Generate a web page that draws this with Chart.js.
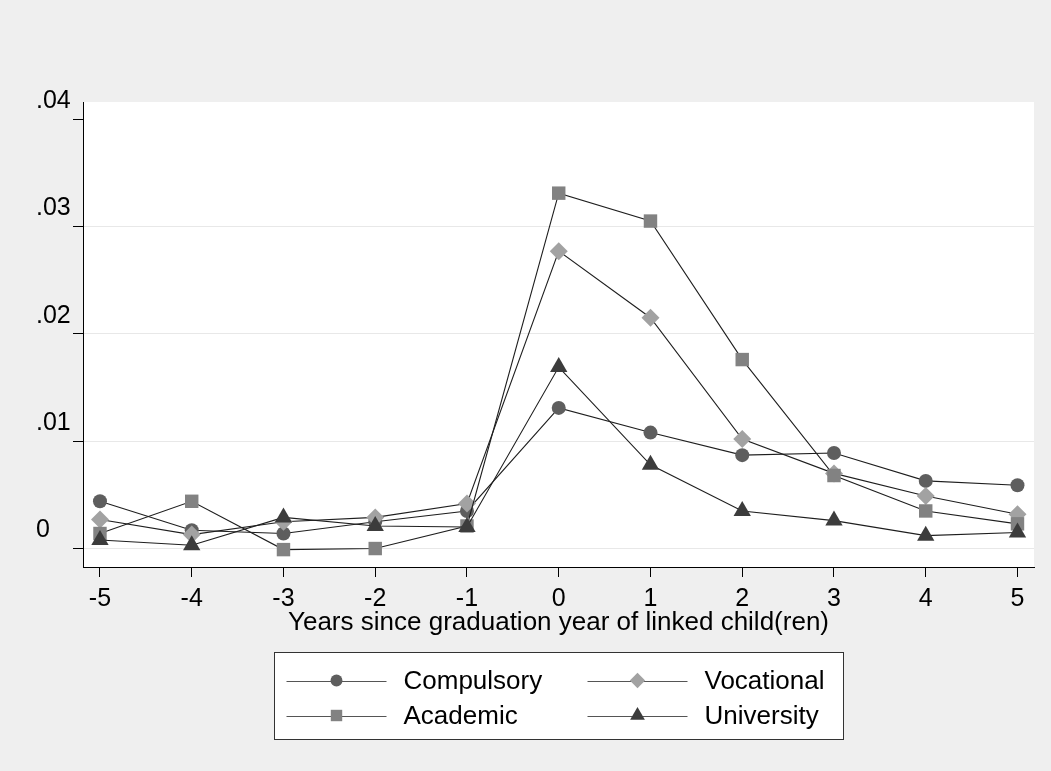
<!DOCTYPE html>
<html>
<head>
<meta charset="utf-8">
<script src="https://cdn.jsdelivr.net/npm/chart.js@4/dist/chart.umd.min.js"></script>
<style>
  html, body { margin: 0; padding: 0; background: #efefef; }
  canvas { display: block; }
</style>
</head>
<body>
<canvas id="grafica" width="1051" height="771"></canvas>
<script>
// Datos
const years = [-5, -4, -3, -2, -1, 0, 1, 2, 3, 4, 5];
const compulsory = [0.0044, 0.0017, 0.0014, 0.0025, 0.0035, 0.0131, 0.0108, 0.0087, 0.0089, 0.0063, 0.0059];
const vocational = [0.0027, 0.0013, 0.0025, 0.0029, 0.0042, 0.0277, 0.0215, 0.0102, 0.0070, 0.0049, 0.0032];
const academic   = [0.0014, 0.0044, -0.0001, 0.0000, 0.0021, 0.0331, 0.0305, 0.0176, 0.0068, 0.0035, 0.0023];
const university = [0.0008, 0.0003, 0.0029, 0.0021, 0.0020, 0.0169, 0.0078, 0.0035, 0.0026, 0.0012, 0.0015];
const yTicks = [0, 0.01, 0.02, 0.03, 0.04];
const xTitle = "Years since graduation year of linked child(ren)";

const FONT = "'Liberation Sans', Arial, Helvetica, sans-serif";

function serie(label, values, style, radius, color, order) {
    return {
        label: label,
        data: years.map((x, i) => ({ x: x, y: values[i] })),
        borderColor: '#1e1e1e',
        borderWidth: 1.1,
        pointStyle: style,
        pointRadius: radius,
        pointBackgroundColor: color,
        pointBorderWidth: 0,
        tension: 0,
        order: order
    };
}

const datasets = [
    serie('Compulsory', compulsory, 'circle', 7, '#5e5e5e', 3),
    serie('Vocational', vocational, 'rectRot', 9, '#a2a2a2', 2),
    serie('Academic', academic, 'rect', 9.5, '#828282', 1),
    serie('University', university, 'triangle', 10, '#3c3c3c', 0)
];

// marcador simple para la leyenda
function marcador(ctx, style, r, x, y, color) {
    ctx.save();
    ctx.fillStyle = color;
    ctx.beginPath();
    if (style === 'circle') {
        ctx.arc(x, y, r, 0, Math.PI * 2);
    } else if (style === 'rect') {
        const s = r * Math.SQRT1_2;
        ctx.rect(x - s, y - s, 2 * s, 2 * s);
    } else if (style === 'rectRot') {
        ctx.moveTo(x - r, y); ctx.lineTo(x, y - r); ctx.lineTo(x + r, y); ctx.lineTo(x, y + r);
        ctx.closePath();
    } else {
        ctx.moveTo(x, y - r);
        ctx.lineTo(x + r * Math.sin(Math.PI * 2 / 3), y - r * Math.cos(Math.PI * 2 / 3));
        ctx.lineTo(x - r * Math.sin(Math.PI * 2 / 3), y - r * Math.cos(Math.PI * 2 / 3));
        ctx.closePath();
    }
    ctx.fill();
    ctx.restore();
}

const fondo = {
    id: 'fondo',
    beforeDraw(chart) {
        const ctx = chart.ctx, a = chart.chartArea;
        ctx.save();
        ctx.fillStyle = '#efefef';
        ctx.fillRect(0, 0, chart.width, chart.height);
        ctx.fillStyle = '#ffffff';
        ctx.fillRect(a.left, a.top, a.right - a.left, a.bottom - a.top);
        ctx.restore();
    }
};

const leyenda = {
    id: 'leyenda',
    afterDraw(chart) {
        const ctx = chart.ctx, a = chart.chartArea;
        const w = 569, h = 87;
        const left = Math.round((a.left + a.right) / 2 - w / 2) + 0.5;
        const top = 652.5;
        ctx.save();
        ctx.fillStyle = '#fff';
        ctx.fillRect(left, top, w, h);
        ctx.strokeStyle = '#333';
        ctx.lineWidth = 1;
        ctx.strokeRect(left, top, w, h);
        const rows = [top + 28, top + 63];
        const cols = [left + 12, left + 313];
        ctx.font = '26px ' + FONT;
        ctx.textBaseline = 'middle';
        ctx.textAlign = 'left';
        datasets.forEach((d, i) => {
            const cx = cols[i % 2], cy = rows[Math.floor(i / 2)];
            ctx.strokeStyle = '#555';
            ctx.beginPath();
            ctx.moveTo(cx, Math.round(cy) + 0.5);
            ctx.lineTo(cx + 100, Math.round(cy) + 0.5);
            ctx.stroke();
            marcador(ctx, d.pointStyle, d.pointRadius * 0.85, cx + 50, cy, d.pointBackgroundColor);
            ctx.fillStyle = '#000';
            ctx.fillText(d.label, cx + 117, cy + 1);
        });
        ctx.restore();
    }
};

new Chart(document.getElementById('grafica'), {
    type: 'line',
    data: { datasets: datasets },
    options: {
        responsive: false,
        devicePixelRatio: 1,
        animation: false,
        layout: { padding: { left: 36, right: 17, top: 102, bottom: 133 } },
        plugins: {
            legend: { display: false },
            tooltip: { enabled: false }
        },
        scales: {
            x: {
                type: 'linear',
                min: -5.185,
                max: 5.18,
                afterBuildTicks: s => { s.ticks = years.map(v => ({ value: v })); },
                afterFit: s => { s.height = 71; },
                grid: { drawOnChartArea: false, tickLength: 10, tickColor: '#000' },
                border: { display: true, color: '#000', width: 1 },
                ticks: {
                    color: '#000',
                    font: { family: FONT, size: 25 },
                    padding: 7,
                    maxRotation: 0,
                    callback: v => String(v)
                },
                title: {
                    display: true,
                    text: xTitle,
                    color: '#000',
                    font: { family: FONT, size: 26 },
                    padding: { top: 0, bottom: 0 }
                }
            },
            y: {
                type: 'linear',
                min: -0.00172,
                max: 0.04159,
                afterBuildTicks: s => { s.ticks = yTicks.map(v => ({ value: v })); },
                afterFit: s => { s.width = 47; },
                grid: {
                    color: c => (c.tick && c.tick.value > 0.035) ? 'rgba(0,0,0,0)' : '#e8e8e8',
                    tickLength: 10,
                    tickColor: '#000'
                },
                border: { display: true, color: '#000', width: 1 },
                ticks: {
                    color: '#000',
                    font: { family: FONT, size: 25 },
                    crossAlign: 'far',
                    labelOffset: -18,
                    callback: v => v === 0 ? '0' : v.toFixed(2).replace(/^0/, '')
                }
            }
        }
    },
    plugins: [fondo, leyenda]
});
</script>
</body>
</html>
